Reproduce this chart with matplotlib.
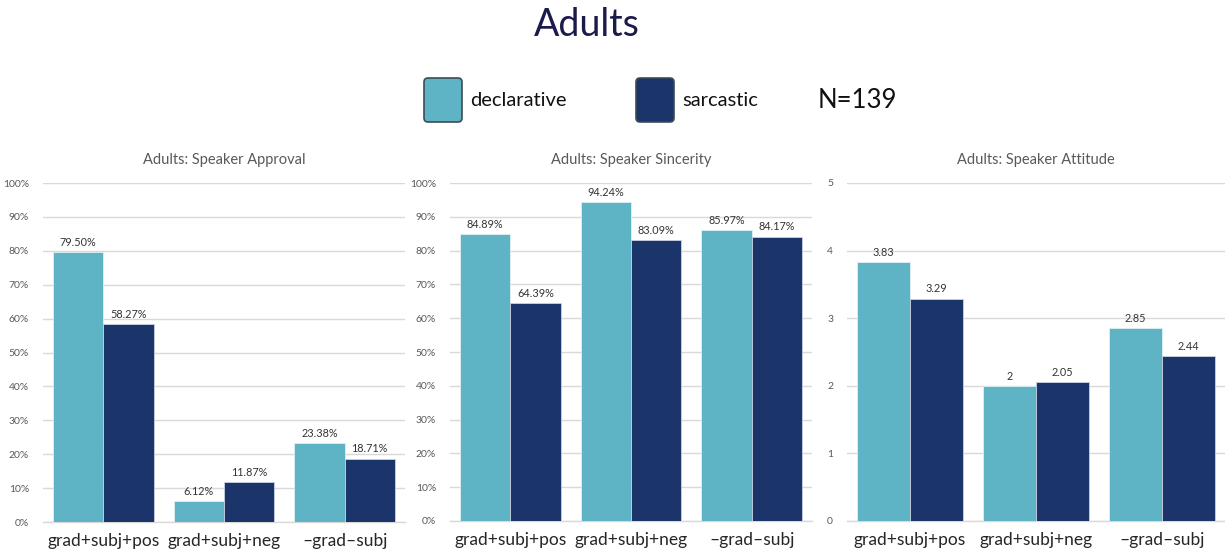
import matplotlib.pyplot as plt
from matplotlib.patches import FancyBboxPatch
from matplotlib.ticker import FuncFormatter
import numpy as np

plt.rcParams['font.family'] = ['Lato', 'DejaVu Sans']

# --- data ---
categories = ["grad+subj+pos", "grad+subj+neg", "\u2013grad\u2013subj"]
approval_decl = [79.50, 6.12, 23.38]
approval_sarc = [58.27, 11.87, 18.71]
sincerity_decl = [84.89, 94.24, 85.97]
sincerity_sarc = [64.39, 83.09, 84.17]
attitude_decl = [3.83, 2, 2.85]
attitude_sarc = [3.29, 2.05, 2.44]
series_names = ["declarative", "sarcastic"]
n_label = "N=139"

TEAL = "#5EB3C4"
NAVY = "#1B356B"
GRID = "#D9D9D9"
TXT = "#595959"

W, H = 1225, 560
fig = plt.figure(figsize=(W / 100, H / 100), dpi=100)


def px_axes(left, right, top, bottom):
    return fig.add_axes([left / W, 1 - bottom / H, (right - left) / W, (bottom - top) / H])


def panel(ax, title, decl, sarc, ymax, step, pct):
    x = np.arange(len(categories))
    bw = 0.417
    b1 = ax.bar(x - bw / 2, decl, bw, color=TEAL, edgecolor="#dff0f4", linewidth=0.6, zorder=3)
    b2 = ax.bar(x + bw / 2, sarc, bw, color=NAVY, edgecolor="#c9d3e3", linewidth=0.6, zorder=3)
    for bars, vals in ((b1, decl), (b2, sarc)):
        for rect, v in zip(bars, vals):
            lab = f"{v:.2f}%" if pct else f"{v:g}"
            ax.annotate(lab, (rect.get_x() + rect.get_width() / 2, v),
                        xytext=(0, 3), textcoords="offset points",
                        ha="center", va="bottom", fontsize=7.8, color="#333333")
    ax.set_xlim(-0.5, len(categories) - 0.5)
    ax.set_ylim(0, ymax)
    ax.set_yticks(np.arange(0, ymax + step / 2, step))
    if pct:
        ax.yaxis.set_major_formatter(FuncFormatter(lambda v, p: f"{v:.0f}%"))
    ax.grid(axis="y", color=GRID, linewidth=1, zorder=0)
    for s in ("top", "right", "left"):
        ax.spines[s].set_visible(False)
    ax.spines["bottom"].set_color(GRID)
    ax.spines["bottom"].set_linewidth(1)
    ax.tick_params(axis="y", length=0, labelsize=7.5, labelcolor=TXT, pad=10)
    ax.tick_params(axis="x", length=0, labelsize=12.5, labelcolor="#262626", pad=8)
    ax.set_xticks(x)
    ax.set_xticklabels(categories)
    ax.set_title(title, fontsize=10.5, color=TXT, pad=14)
    ax.set_facecolor("none")


ax1 = px_axes(43, 405, 183, 522)
panel(ax1, "Adults: Speaker Approval", approval_decl, approval_sarc, 100, 10, True)
ax2 = px_axes(450, 812, 183, 521)
panel(ax2, "Adults: Speaker Sincerity", sincerity_decl, sincerity_sarc, 100, 10, True)
ax3 = px_axes(847, 1225, 183, 521)
panel(ax3, "Adults: Speaker Attitude", attitude_decl, attitude_sarc, 5, 1, False)

# header: title and legend drawn in pixel space
ov = fig.add_axes([0, 0, 1, 1])
ov.set_xlim(0, W)
ov.set_ylim(H, 0)
ov.axis("off")
ov.patch.set_visible(False)

ov.text(587, 25, "Adults", ha="center", va="center", fontsize=27, color="#1B1B4B")

for xl, col, name in ((424, TEAL, series_names[0]), (636, NAVY, series_names[1])):
    ov.add_patch(FancyBboxPatch((xl + 4, 82), 30, 36,
                                boxstyle="round,pad=4", facecolor=col,
                                edgecolor="#3A4E55", linewidth=1.2))
    ov.text(xl + 46, 100, name, ha="left", va="center", fontsize=14.5, color="#111111")
ov.text(818, 101, n_label, ha="left", va="center", fontsize=18.5, color="#111111")

fig.savefig("out.png", dpi=100)
